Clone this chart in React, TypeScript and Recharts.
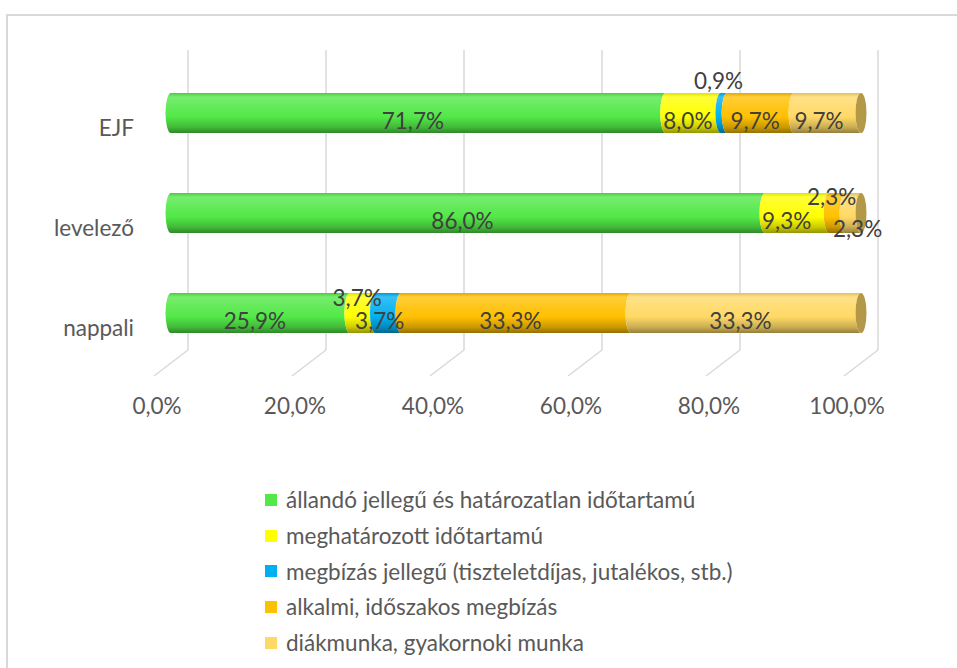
import React from 'react';
import { BarChart, Bar, XAxis, YAxis, CartesianGrid, LabelList, Legend } from 'recharts';

const categories = ['EJF', 'levelező', 'nappali'];
const seriesNames = [
  'állandó jellegű és határozatlan időtartamú',
  'meghatározott időtartamú',
  'megbízás jellegű (tiszteletdíjas, jutalékos, stb.)',
  'alkalmi, időszakos megbízás',
  'diákmunka, gyakornoki munka',
];
const allando = [71.7, 86.0, 25.9];
const meghatarozott = [8.0, 9.3, 3.7];
const megbizas = [0.9, 0, 3.7];
const alkalmi = [9.7, 2.3, 33.3];
const diakmunka = [9.7, 2.3, 33.3];
const xTicks = [0, 0.2, 0.4, 0.6, 0.8, 1];

const seriesColors = ['#52e847', '#ffff00', '#00b0f0', '#ffc000', '#ffd966'];
const seriesKeys = ['s0', 's1', 's2', 's3', 's4'];
const seriesValues = [allando, meghatarozott, megbizas, alkalmi, diakmunka];

// label placement tweaks [dx, dy] per series, per category (style only)
const labelOffsets = [
  [[0, 7], [0, 7], [0, 7]],
  [[0, 7], [-5, 7], [0, -16]],
  [[0, -33], [0, 0], [-3, 7]],
  [[0, 7], [0, -17], [0, 7]],
  [[-3, 7], [10, 15], [0, 7]],
];

const data = categories.map((name, i) => {
  const row: any = { name };
  seriesKeys.forEach((k, s) => {
    row[k] = seriesValues[s][i];
  });
  return row;
});

const FONT = 'Lato, "Open Sans", sans-serif';
const FS = 22.5;
const RX = 5.5;
const DEPTH_X = 34;
const DEPTH_Y = 13;

function mix(hex: string, target: number, t: number) {
  const n = parseInt(hex.slice(1), 16);
  const r = (n >> 16) & 255, g = (n >> 8) & 255, b = n & 255;
  const f = (c: number) => Math.round(c + (target - c) * t);
  return `rgb(${f(r)},${f(g)},${f(b)})`;
}

const fmt = (v: number) => `${v.toFixed(1).replace('.', ',')}%`;

const makeShape = (s: number) => (props: any) => {
  const { x, y, width, height } = props;
  if (!width || width < 0.5) return <g />;
  const r = height / 2;
  const d = `M${x},${y} A${RX},${r} 0 0 0 ${x},${y + height} L${x + width},${y + height} A${RX},${r} 0 0 1 ${x + width},${y} Z`;
  return (
    <g>
      <path d={d} fill={`url(#grad${s})`} />
      {s === seriesKeys.length - 1 && (
        <ellipse cx={x + width} cy={y + r} rx={RX} ry={r} fill={mix(seriesColors[s], 0, 0.3)} />
      )}
    </g>
  );
};

const makeLabel = (s: number) => (props: any) => {
  const { x, y, width, height, value, index } = props;
  if (!value) return null;
  const [dx, dy] = labelOffsets[s][index] || [0, 7];
  const cx = x + width / 2 - RX + dx;
  const cy = y + height / 2 + dy;
  return (
    <text x={cx} y={cy} textAnchor="middle" dominantBaseline="central" fill="#404040" fontSize={FS} fontFamily={FONT}>
      {fmt(value)}
    </text>
  );
};

const FrontTick = (props: any) => {
  const { x, y, payload } = props;
  return (
    <text x={x + 3} y={y + 12} textAnchor="middle" dominantBaseline="central" fill="#595959" fontSize={FS} fontFamily={FONT}>
      {fmt(payload.value * 100)}
    </text>
  );
};

const CatTick = (props: any) => {
  const { x, y, payload } = props;
  return (
    <text x={x + 40} y={y + 14} textAnchor="end" dominantBaseline="central" fill="#595959" fontSize={FS} fontFamily={FONT}>
      {payload.value}
    </text>
  );
};

const gridLine = (p: any) => {
  const { x1, y1, y2 } = p;
  return (
    <path
      key={p.key}
      d={`M${x1 + DEPTH_X},${y1 - DEPTH_Y} L${x1 + DEPTH_X},${y2 - DEPTH_Y} L${x1},${y2 + DEPTH_Y}`}
      stroke="#d9d9d9"
      strokeWidth={1.5}
      fill="none"
    />
  );
};

const LegendContent = () => (
  <div style={{ fontFamily: FONT, fontSize: FS, color: '#595959' }}>
    {seriesNames.map((n, i) => (
      <div key={n} style={{ display: 'flex', alignItems: 'center', height: 35.7, whiteSpace: 'nowrap' }}>
        <span style={{ display: 'inline-block', width: 12, height: 12, background: seriesColors[i], marginRight: 9 }} />
        <span>{n}</span>
      </div>
    ))}
  </div>
);

export default function App() {
  return (
    <div style={{ position: 'absolute', left: 0, top: 0, width: 957, height: 668, overflow: 'hidden', background: '#fff', fontFamily: FONT }}>
      <div style={{ position: 'absolute', left: 6, top: 14, width: 1000, height: 700, border: '2px solid #d9d9d9', boxSizing: 'border-box' }} />
      <div style={{ position: 'absolute', left: 0, top: 0 }}>
        <BarChart
          width={957}
          height={668}
          data={data}
          layout="vertical"
          stackOffset="expand"
          margin={{ top: 63, right: 79, left: 0, bottom: 245 }}
        >
          <defs>
            {seriesColors.map((c, s) => (
              <linearGradient key={s} id={`grad${s}`} x1="0" y1="0" x2="0" y2="1">
                <stop offset="0" stopColor={mix(c, 0, 0.12)} />
                <stop offset="0.1" stopColor={mix(c, 255, 0.22)} />
                <stop offset="0.35" stopColor={mix(c, 255, 0.1)} />
                <stop offset="0.6" stopColor={c} />
                <stop offset="0.85" stopColor={mix(c, 0, 0.2)} />
                <stop offset="1" stopColor={mix(c, 0, 0.42)} />
              </linearGradient>
            ))}
          </defs>
          <CartesianGrid xAxisId="front" yAxisId="main" horizontal={false} vertical={gridLine} syncWithTicks />
          <XAxis xAxisId="bar" type="number" domain={[0, 1]} hide padding={{ left: 17, right: 17 }} />
          <XAxis
            xAxisId="front"
            type="number"
            domain={[0, 1]}
            ticks={xTicks}
            padding={{ left: 0, right: 34 }}
            axisLine={false}
            tickLine={false}
            tickSize={0}
            tickMargin={0}
            height={60}
            tick={<FrontTick />}
            interval={0}
          />
          <YAxis
            yAxisId="main"
            type="category"
            dataKey="name"
            width={154}
            axisLine={false}
            tickLine={false}
            tickSize={0}
            tickMargin={0}
            tick={<CatTick />}
            interval={0}
          />
          <YAxis yAxisId="lab" type="category" dataKey="name" hide />
          {seriesKeys.map((k, s) => (
            <Bar
              key={k}
              dataKey={k}
              name={seriesNames[s]}
              stackId="main"
              xAxisId="bar"
              yAxisId="main"
              barSize={40}
              fill={seriesColors[s]}
              shape={makeShape(s)}
              isAnimationActive={false}
            />
          ))}
          {seriesKeys.map((k, s) => (
            <Bar
              key={'lab' + k}
              dataKey={k}
              stackId="lab"
              xAxisId="bar"
              yAxisId="lab"
              barSize={40}
              fill="transparent"
              shape={() => <g />}
              legendType="none"
              isAnimationActive={false}
            >
              <LabelList dataKey={k} content={makeLabel(s)} />
            </Bar>
          ))}
          <Legend
            layout="vertical"
            align="center"
            verticalAlign="middle"
            content={<LegendContent />}
            wrapperStyle={{ left: 265, top: 482, width: 600 }}
          />
        </BarChart>
      </div>
    </div>
  );
}
